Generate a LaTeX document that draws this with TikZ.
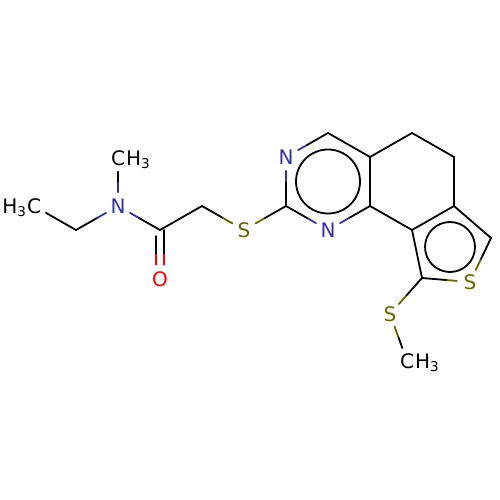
\documentclass[tikz,border=0pt]{standalone}
\usepackage{fontspec}
\setmainfont{DejaVu Sans}
\usetikzlibrary{calc}
\definecolor{nblue}{RGB}{51,51,153}
\definecolor{solive}{RGB}{102,102,0}
\definecolor{ored}{RGB}{255,0,0}
\newcommand\mysub[1]{\raisebox{-3.5pt}{\fontsize{13.5}{14}\selectfont #1}}
\newcommand\bond[4]{\draw[#3] (#1) -- ($(#1)!0.5!(#2)$); \draw[#4] ($(#1)!0.5!(#2)$) -- (#2);}
\begin{document}
\begin{tikzpicture}[x=1pt,y=-1pt, line width=1.8pt, line cap=round,
 atom/.style={circle, inner sep=1.8pt, font=\fontsize{20}{24}\selectfont},
 hlab/.style={inner sep=0pt, font=\fontsize{20}{24}\selectfont}]
\useasboundingbox (0,0) rectangle (500,500);
% atoms
\node[atom] (lC) at (34,206) {C};
\node[hlab, anchor=base east] (hL) at ($(lC.base)+(-7.2,0)$) {H\mysub{3}};
\coordinate (cEt) at (76,230);
\node[atom, text=nblue] (nA) at (118,206) {N};
\node[atom] (cMe) at (118,158) {C};
\node[hlab, anchor=base west] (hMe) at ($(cMe.base)+(7.2,0)$) {H\mysub{3}};
\coordinate (cCO) at (160,230);
\node[atom, text=ored] (oA) at (160,279) {O};
\coordinate (cS1) at (202,206);
\node[atom, text=solive] (sA) at (244,230) {S};
\coordinate (c2) at (286,206);
\node[atom, text=nblue] (n3) at (286,157) {N};
\coordinate (c4) at (328,133);
\coordinate (c4a) at (370,157);
\coordinate (c9b) at (370,206);
\node[atom, text=nblue] (n1) at (328,230) {N};
\coordinate (c5) at (412,133);
\coordinate (c6) at (454,157);
\coordinate (c6a) at (454,206);
\coordinate (c9a) at (412,230);
\coordinate (c7) at (491,238);
\node[atom, text=solive] (sB) at (470,282) {S};
\coordinate (c9) at (422,278);
\node[atom, text=solive] (sC) at (390,314) {S};
\node[atom] (cMe2) at (407,361) {C};
\node[hlab, anchor=base west] (hMe2) at ($(cMe2.base)+(7.2,0)$) {H\mysub{3}};
% bonds
\draw (cEt) -- (lC);
\bond{cEt}{nA}{black}{nblue}
\bond{nA}{cMe}{nblue}{black}
\bond{nA}{cCO}{nblue}{black}
\coordinate (mCO) at ($(cCO)!0.5!(oA)$);
\draw ([xshift=3.8pt]cCO) -- ([xshift=3.8pt]mCO);
\draw[ored] ([xshift=3.8pt]mCO) -- ([xshift=3.8pt]oA.north);
\draw ([xshift=-4.2pt,yshift=-6pt]cCO) -- ([xshift=-4.2pt]mCO);
\draw[ored] ([xshift=-4.2pt]mCO) -- ([xshift=-4.2pt]oA.north);
\draw (cCO) -- (cS1);
\bond{cS1}{sA}{black}{solive}
\bond{sA}{c2}{solive}{black}
\bond{c2}{n3}{black}{nblue}
\bond{n3}{c4}{nblue}{black}
\draw (c4) -- (c4a) -- (c9b);
\bond{c9b}{n1}{black}{nblue}
\bond{n1}{c2}{nblue}{black}
\draw (c4a) -- (c5) -- (c6) -- (c6a) -- (c9a) -- (c9b);
\draw (c6a) -- (c7);
\bond{c7}{sB}{black}{solive}
\bond{sB}{c9}{solive}{black}
\draw (c9) -- (c9a);
\bond{c9}{sC}{black}{solive}
\bond{sC}{cMe2}{solive}{black}
% aromatic circles
\draw (328,181.5) circle[radius=32pt];
\draw (450,247) circle[radius=25pt];
\end{tikzpicture}
\end{document}
